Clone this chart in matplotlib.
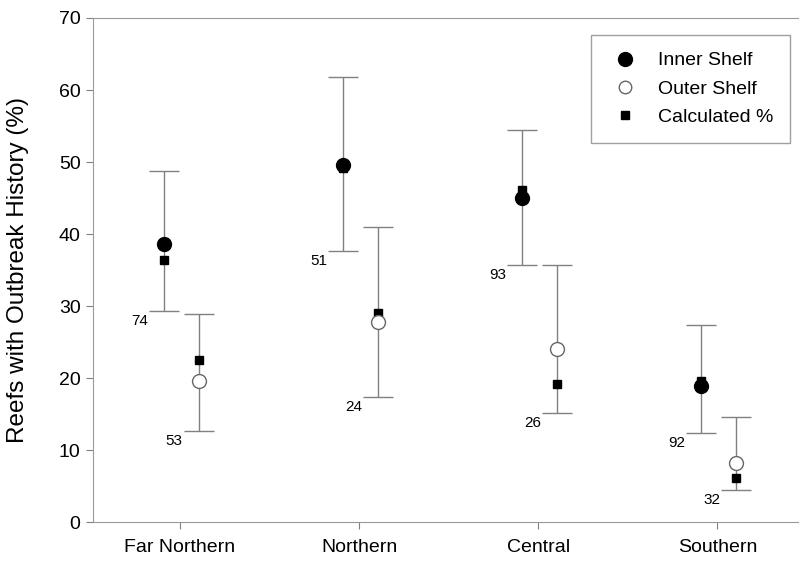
import numpy as np
import matplotlib
matplotlib.use("Agg")
import matplotlib.pyplot as plt
from matplotlib.lines import Line2D

plt.rcParams['font.family'] = ['Liberation Sans', 'DejaVu Sans']

# data
regions = ["Far Northern", "Northern", "Central", "Southern"]
inner_mean = [38.6, 49.6, 45.0, 18.9]
inner_hi = [48.8, 61.8, 54.4, 27.4]
inner_lo = [29.3, 37.6, 35.7, 12.4]
inner_calc = [36.4, 49.2, 46.1, 19.6]
inner_n = ["74", "51", "93", "92"]

outer_mean = [19.6, 27.8, 24.0, 8.2]
outer_hi = [28.9, 41.0, 35.7, 14.6]
outer_lo = [12.6, 17.4, 15.1, 4.4]
outer_calc = [22.5, 29.0, 19.2, 6.1]
outer_n = ["53", "24", "26", "32"]

x = np.arange(1, len(regions) + 1)
x_in = x - 0.09
x_out = x + 0.105
cap = 10.5

fig, ax = plt.subplots(figsize=(8.02, 5.62), dpi=100)
fig.subplots_adjust(left=0.116, right=0.995, top=0.968, bottom=0.071)

ebar = dict(fmt='none', ecolor='#808080', elinewidth=1.0, capsize=cap, capthick=1.0, zorder=1)
ax.errorbar(x_in, inner_mean,
            yerr=[np.subtract(inner_mean, inner_lo), np.subtract(inner_hi, inner_mean)], **ebar)
ax.errorbar(x_out, outer_mean,
            yerr=[np.subtract(outer_mean, outer_lo), np.subtract(outer_hi, outer_mean)], **ebar)

ax.plot(x_in, inner_calc, 's', color='black', ms=6, zorder=2)
ax.plot(x_out, outer_calc, 's', color='black', ms=6, zorder=2)
ax.plot(x_in, inner_mean, 'o', color='black', ms=10, zorder=3)
ax.plot(x_out, outer_mean, 'o', mfc='white', mec='#666666', mew=1.0, ms=10, zorder=3)

for xs, los, ns in [(x_in, inner_lo, inner_n), (x_out, outer_lo, outer_n)]:
    for xi, lo, n in zip(xs, los, ns):
        ax.annotate(n, (xi, lo), xytext=(-cap - 1, -2), textcoords='offset points',
                    ha='right', va='top', fontsize=11)

ax.set_xlim(0.515, 4.45)
ax.set_ylim(0, 70)
ax.set_yticks(range(0, 71, 10))
ax.set_xticks(x)
ax.set_xticklabels(regions, fontsize=14)
ax.tick_params(axis='y', labelsize=14, color='#808080', length=5, pad=4)
ax.tick_params(axis='x', color='#808080', length=5, pad=7)
ax.set_ylabel("Reefs with Outbreak History (%)", fontsize=17.5, labelpad=21)
for s in ax.spines.values():
    s.set_color('#999999')
ax.spines['right'].set_visible(False)

handles = [
    Line2D([], [], ls='none', marker='o', color='black', ms=10),
    Line2D([], [], ls='none', marker='o', mfc='white', mec='#666666', ms=9),
    Line2D([], [], ls='none', marker='s', color='black', ms=6),
]
leg = ax.legend(handles, ["Inner Shelf", "Outer Shelf", "Calculated %"],
                loc='upper right', bbox_to_anchor=(1.002, 0.985), fontsize=14,
                frameon=True, fancybox=False, edgecolor='#888888',
                handletextpad=0.8, borderpad=0.85, labelspacing=0.55, handlelength=1.8)
leg.get_frame().set_linewidth(1.0)

fig.savefig("out.png", dpi=100)
